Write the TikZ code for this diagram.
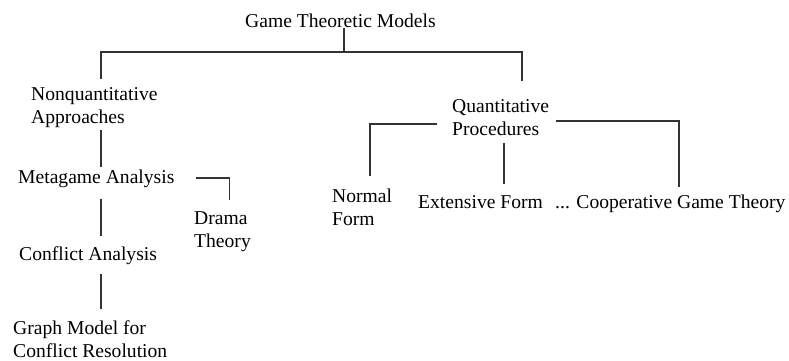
\documentclass[tikz,border=0pt]{standalone}
\usepackage{fontspec}
\setmainfont{Liberation Serif}
\usepackage{xcolor}
\usepackage{tikz}

\begin{document}
\begin{tikzpicture}[x=1pt, y=-1pt,
    etiqueta/.style={anchor=base west, inner sep=0pt, align=left, font=\fontsize{19.6}{22.5}\selectfont},
    rama/.style={line width=1.8pt, color=black!80}]
      \useasboundingbox (0,0) rectangle (789,360);
      % Nodos principales
      \node[etiqueta] (titulo) at (245,27) {Game Theoretic Models};
      \node[etiqueta] (noq) at (31,123) {Nonquantitative\\Approaches};
      \node[etiqueta] (meta) at (18,183) {Metagame Analysis};
      \node[etiqueta] (conf) at (19,260) {Conflict Analysis};
      \node[etiqueta] (grafo) at (13,357) {Graph Model for\\Conflict Resolution};
      \node[etiqueta] (drama) at (194,247) {Drama\\Theory};
      \node[etiqueta] (cuant) at (452,135) {Quantitative\\Procedures};
      \node[etiqueta] (normal) at (332,225) {Normal\\Form};
      \node[etiqueta] (extensa) at (418,208) {Extensive Form};
      \node[etiqueta] (coop) at (555,208) {... Cooperative Game Theory};
      \coordinate (cruce) at (344,52);
      \coordinate (tronco) at (101,0);

      % Ramas desde el titulo
      \draw[rama] ([yshift=-1pt]titulo.south -| cruce) -- (cruce);
      \draw[rama] (cruce) -| ([yshift=8pt]noq.north -| tronco);
      \draw[rama] (cruce) -| ([xshift=21pt, yshift=18pt]cuant.north);

      % Rama no cuantitativa
      \draw[rama] ([yshift=-3pt]noq.south -| tronco) -- ([yshift=2pt]meta.north -| tronco);
      \draw[rama] ([yshift=-12pt]meta.south -| tronco) -- ([yshift=10pt]conf.north -| tronco);
      \draw[rama] ([yshift=-10pt]conf.south -| tronco) -- ([yshift=12pt]grafo.north -| tronco);
      \draw[rama] ([xshift=21pt]meta.east) -| ([xshift=7pt, yshift=11pt]drama.north);

      % Rama cuantitativa
      \draw[rama] ([xshift=-15pt, yshift=-7pt]cuant.west) -| ([xshift=8pt, yshift=13pt]normal.north);
      \draw[rama] ([xshift=3pt, yshift=-8pt]cuant.south) -- ([xshift=3pt, yshift=11pt]cuant.south |- extensa.north);
      \draw[rama] ([xshift=7pt, yshift=-4pt]cuant.east) -| ([xshift=9pt, yshift=7pt]coop.north);
    \end{tikzpicture}
\end{document}
